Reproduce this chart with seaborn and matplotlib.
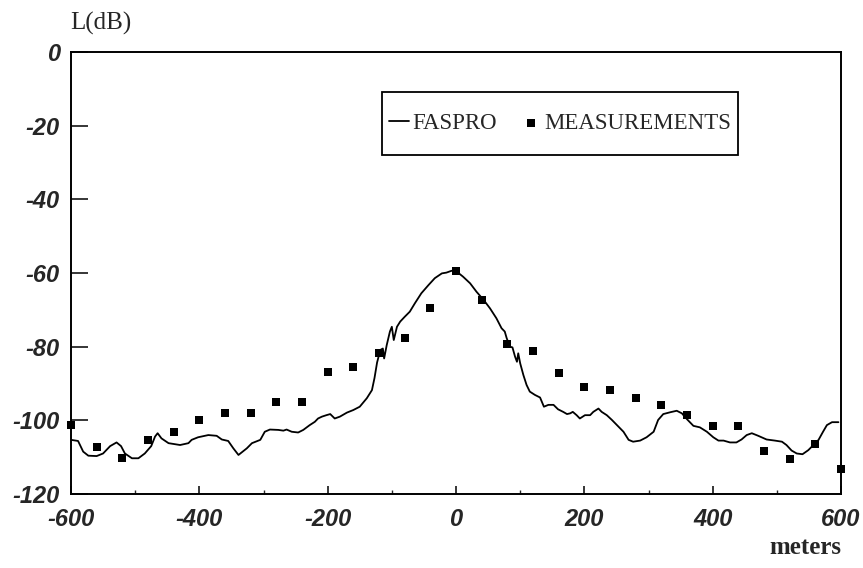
import matplotlib
matplotlib.use("Agg")
import matplotlib.pyplot as plt
import seaborn as sns
import pandas as pd
from matplotlib.ticker import MultipleLocator
from matplotlib.patches import Rectangle

# FASPRO model prediction: distance along the track (m) and level (dB)
x_model = [-600, -589, -581, -573, -560, -550, -539, -529, -522, -516, -505, -495,
           -485, -475, -469, -465, -459, -448, -430, -417, -412, -402, -386, -373,
           -365, -355, -347, -339, -326, -318, -305, -298, -290, -277, -269, -264,
           -256, -246, -238, -228, -220, -215, -209, -202, -196, -189, -181, -170,
           -160, -150, -139, -131, -127, -123, -118, -114, -112, -108, -103, -100,
           -97, -92, -87, -80, -72, -64, -54, -43, -33, -22, -15, -7, 1, 11, 22,
           32, 43, 53, 63, 71, 76, 79, 84, 88, 92, 95, 97, 100, 105, 110, 115, 123,
           131, 137, 144, 152, 159, 167, 173, 178, 182, 188, 193, 201, 209, 214,
           222, 227, 235, 243, 253, 261, 269, 276, 287, 297, 308, 315, 323, 334,
           344, 352, 360, 370, 380, 391, 401, 409, 417, 427, 437, 445, 453, 461,
           471, 484, 497, 508, 515, 523, 531, 540, 549, 557, 565, 572, 578, 586, 596]
l_model = [-105.3, -105.6, -108.5, -109.6, -109.7, -109.0, -107.0, -106.0, -107.0,
           -109.0, -110.3, -110.3, -109.0, -107.0, -104.4, -103.5, -104.9, -106.2,
           -106.7, -106.2, -105.3, -104.6, -104.0, -104.2, -105.2, -105.6, -107.6,
           -109.4, -107.6, -106.2, -105.3, -103.1, -102.5, -102.6, -102.8, -102.5,
           -103.1, -103.3, -102.6, -101.3, -100.4, -99.5, -99.0, -98.6, -98.3,
           -99.5, -99.0, -97.9, -97.2, -96.3, -94.0, -91.8, -88.5, -84.3, -80.9,
           -80.5, -83.2, -79.6, -75.9, -74.6, -78.2, -74.6, -73.2, -71.9, -70.5,
           -68.2, -65.5, -63.3, -61.4, -60.1, -59.9, -59.4, -59.6, -61.0, -62.8,
           -65.1, -67.3, -69.6, -72.3, -75.0, -75.9, -77.7, -80.0, -80.2, -82.7,
           -84.1, -81.8, -84.5, -87.7, -90.4, -92.2, -93.1, -93.8, -96.3, -95.8,
           -95.8, -97.0, -97.7, -98.3, -98.1, -97.7, -98.6, -99.5, -98.6, -98.6,
           -97.7, -96.8, -97.7, -98.6, -99.9, -101.7, -103.1, -105.3, -105.8,
           -105.5, -104.6, -103.1, -99.9, -98.3, -97.8, -97.4, -98.1, -99.7,
           -101.5, -101.9, -103.1, -104.6, -105.5, -105.5, -106.0, -106.0, -105.2,
           -104.0, -103.5, -104.2, -105.2, -105.5, -105.8, -106.7, -108.2, -109.0,
           -109.2, -108.1, -106.7, -105.3, -103.1, -101.3, -100.5, -100.5]

# Measured levels every 40 m
x_meas = [-600, -560, -520, -480, -440, -400, -360, -320, -280, -240, -200, -160,
          -120, -80, -40, 0, 40, 80, 120, 160, 200, 240, 280, 320, 360, 400, 440,
          480, 520, 560, 600]
l_meas = [-101.3, -107.3, -110.2, -105.3, -103.1, -100.0, -98.1, -97.9, -94.9,
          -94.9, -86.8, -85.6, -81.6, -77.6, -69.4, -59.5, -67.4, -79.3, -81.3,
          -87.2, -91.0, -91.9, -93.9, -95.8, -98.6, -101.5, -101.5, -108.3,
          -110.5, -106.5, -113.2]

x_ticks = [-600, -400, -200, 0, 200, 400, 600]
y_ticks = [0, -20, -40, -60, -80, -100, -120]

model = pd.DataFrame({"x": x_model, "L": l_model})
meas = pd.DataFrame({"x": x_meas, "L": l_meas})

sns.set_style("ticks")
plt.rcParams["font.family"] = ["Liberation Sans", "DejaVu Sans"]
plt.rcParams["axes.unicode_minus"] = False

fig = plt.figure(figsize=(8.63, 5.68), dpi=100)
ax = fig.add_axes([71 / 863, 1 - 494 / 568, 770 / 863, 442 / 568])

sns.lineplot(data=model, x="x", y="L", ax=ax, color="black", linewidth=1.3,
             label="FASPRO", sort=False)
sns.scatterplot(data=meas, x="x", y="L", ax=ax, color="black", marker="s",
                s=28, linewidth=0, label="MEASUREMENTS", clip_on=False, zorder=5)

ax.set_xlim(-600, 600)
ax.set_ylim(-120, 0)
ax.set_xticks(x_ticks)
ax.set_yticks(y_ticks)
ax.xaxis.set_minor_locator(MultipleLocator(100))
ax.set_xlabel("")
ax.set_ylabel("")

for s in ax.spines.values():
    s.set_linewidth(1.4)
    s.set_color("black")

ax.tick_params(axis="x", which="major", direction="in", length=6, width=1.3, pad=10)
ax.tick_params(axis="x", which="minor", direction="in", length=3, width=1.0)
ax.tick_params(axis="y", which="major", direction="in", length=12, width=1.3, pad=8)
ax.tick_params(axis="y", which="minor", left=False)
for lab in ax.get_xticklabels() + ax.get_yticklabels():
    lab.set_fontstyle("italic")
    lab.set_fontweight("bold")
    lab.set_fontsize(17)
    lab.set_family(["Liberation Sans", "DejaVu Sans"])

# Legend box drawn as a plain rectangle, entries laid out inside it
box_x0, box_x1 = (382 - 71) / 770, (738 - 71) / 770
box_y0, box_y1 = (494 - 155) / 442, (494 - 92) / 442
ax.add_patch(Rectangle((box_x0, box_y0), box_x1 - box_x0, box_y1 - box_y0,
                       transform=ax.transAxes, facecolor="white",
                       edgecolor="black", linewidth=1.3, zorder=6))
leg = ax.legend(loc="center", bbox_to_anchor=((box_x0 + box_x1) / 2,
                                              (box_y0 + box_y1) / 2),
                ncol=2, frameon=False, handlelength=0.9, handletextpad=0.15,
                columnspacing=1.0, borderpad=0.0,
                prop={"family": "Liberation Serif", "size": 16.5})
leg.set_zorder(7)

fig.text(70 / 863, 1 - 23 / 568, "L(dB)", ha="left", va="center",
         family="Liberation Serif", fontsize=18)
fig.text(841 / 863, 1 - 547 / 568, "meters", ha="right", va="center",
         family="Liberation Serif", fontsize=18, fontweight="bold")

fig.savefig("out.png", dpi=100, facecolor="white")
